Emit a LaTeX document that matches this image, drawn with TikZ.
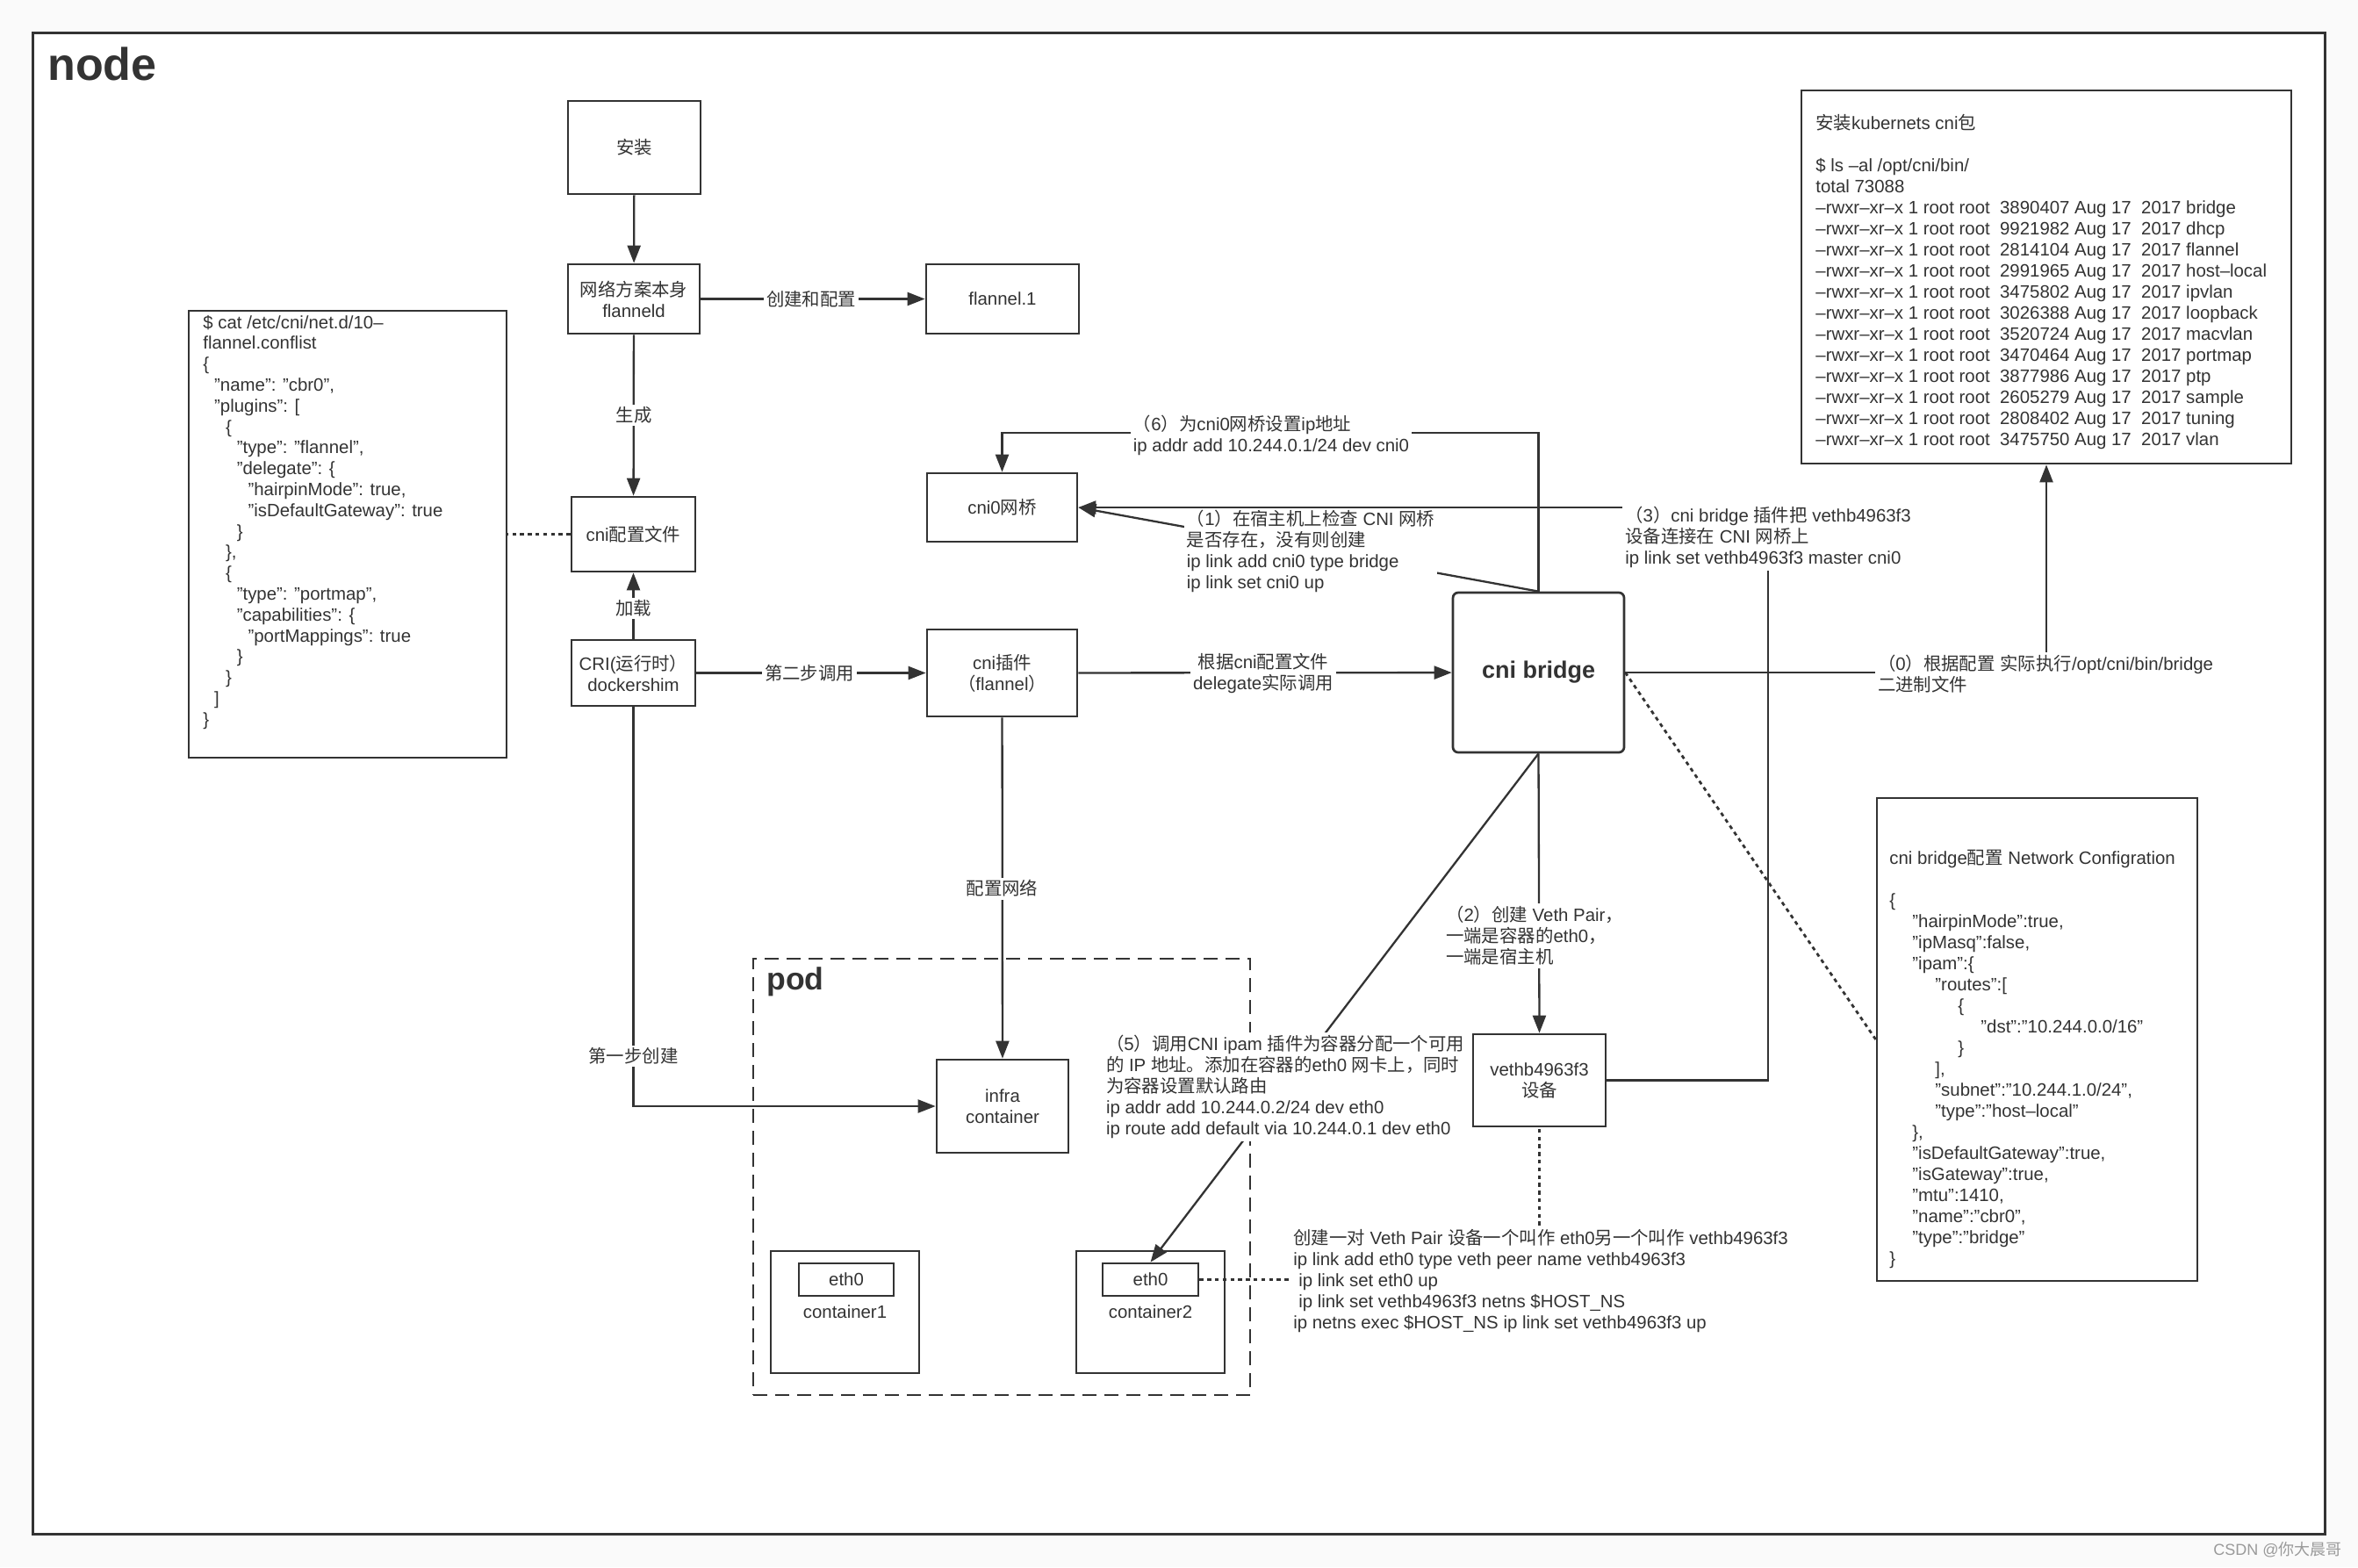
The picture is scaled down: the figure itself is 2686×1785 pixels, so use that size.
\documentclass[tikz,border=0pt]{standalone}
\usepackage{fontspec}
\setmainfont{Liberation Sans}
\newfontfamily\cjkfont{Noto Sans CJK SC}
\newfontfamily\latinfont{Liberation Sans}
\usetikzlibrary{arrows.meta}
\newcount\mycc
\mycc=0
\loop \XeTeXcharclass\mycc=0 \advance\mycc by 1 \ifnum\mycc<"3000 \repeat
\mycc="3000
\loop \XeTeXcharclass\mycc=1 \advance\mycc by 1 \ifnum\mycc<"3040 \repeat
\mycc="4E00
\loop \XeTeXcharclass\mycc=1 \advance\mycc by 1 \ifnum\mycc<"A000 \repeat
\mycc="FF00
\loop \XeTeXcharclass\mycc=1 \advance\mycc by 1 \ifnum\mycc<"FFF0 \repeat
\XeTeXinterchartoks 0 1 = {\cjkfont}
\XeTeXinterchartoks 4095 1 = {\cjkfont}
\XeTeXinterchartoks 1 0 = {\latinfont}
\XeTeXinterchartoks 1 4095 = {\latinfont}
\XeTeXinterchartokenstate=1
\definecolor{ink}{HTML}{333333}
\definecolor{pagebg}{HTML}{FAFAFA}
\definecolor{wm}{HTML}{9A9A9A}
\newcommand\dfont{\fontsize{10.2}{12}\selectfont}
\newcommand\lsrow[2]{–rwxr–xr–x 1 root root~~#1 Aug 17~~2017 #2}
\begin{document}
\begin{tikzpicture}[x=0.5pt, y=-0.5pt,
  every node/.style={text=ink, inner sep=0pt},
  box/.style={draw=ink, line width=1.35pt, font=\dfont, align=center},
  ln/.style={draw=ink, line width=1.15pt},
  arr/.style={ln, -{Triangle[length=10pt,width=7.5pt]}},
  dotln/.style={draw=ink, line width=1.4pt, dash pattern=on 2.2pt off 2.2pt},
  lbl/.style={fill=white, font=\dfont, align=left, inner sep=1.5pt},
  clbl/.style={fill=white, font=\dfont, align=center, inner sep=1.5pt},
  txt/.style={font=\dfont, align=left, anchor=north west}
]
\fill[pagebg] (0,0) rectangle (2686,1785);
\useasboundingbox (0,0) rectangle (2686,1785);
\draw[ink, line width=1.5pt, fill=white] (37.5,37.5) rectangle (2648.5,1747.5);

\node[anchor=base west, font=\fontsize{26}{30}\selectfont\bfseries] (title) at (54,91) {node};

% boxes
\node[box, minimum width=75.5pt, minimum height=53pt] (inst) at (722.5,168) {安装};
\node[box, minimum width=75pt, minimum height=39.5pt] (fl) at (722,340.5) {网络方案本身\\flanneld};
\node[box, minimum width=87pt, minimum height=39.5pt] (fl1) at (1142,340.5) {flannel.1};
\node[box, minimum width=70.5pt, minimum height=42.5pt] (cfg) at (721.5,608.5) {cni配置文件};
\node[box, minimum width=70.5pt, minimum height=37.5pt] (cri) at (721.5,766.5) {CRI(运行时）\\dockershim};
\node[box, minimum width=85.5pt, minimum height=49.5pt] (plug) at (1141.5,766.5) {cni插件\\（flannel）};
\node[box, minimum width=85.5pt, minimum height=39pt] (cni0) at (1141.5,578) {cni0网桥};
\node[box, rounded corners=3pt, minimum width=97.5pt, minimum height=91pt, font=\fontsize{13.5}{16}\selectfont\bfseries] (bridge) at (1752.5,766) {cni bridge};
\node[box, minimum width=75.5pt, minimum height=52.5pt] (veth) at (1753.5,1230.5) {vethb4963f3\\设备};

% pod
\node[draw=ink, line width=1.4pt, dash pattern=on 8pt off 4.5pt, minimum width=283pt, minimum height=248.5pt] (pod) at (1141,1340.5) {};
\node[anchor=base west, font=\fontsize{17.8}{20}\selectfont\bfseries] (podtitle) at (873,1127) {pod};
\node[box, minimum width=75pt, minimum height=53pt] (infra) at (1142,1260) {infra\\container};
\node[box, minimum width=84.5pt, minimum height=69.5pt] (cA) at (962.5,1494.5) {container1};
\node[box, minimum width=54pt, minimum height=18.5pt] (ethA) at (964,1457.5) {eth0};
\node[box, minimum width=84.5pt, minimum height=69.5pt] (cB) at (1310.5,1494.5) {container2};
\node[box, minimum width=54.5pt, minimum height=18.5pt] (ethB) at (1310.5,1457.5) {eth0};

% text boxes
\node[box, minimum width=181pt, minimum height=254.5pt] (jsonL) at (396,608.5) {};
\node[txt, font=\fontsize{10.2}{11.9}\selectfont] (jsonLtxt) at (231,357) {\strut\$ cat /etc/cni/net.d/10–\\
flannel.conflist\\
\{\\
\hspace*{6.4pt}"name": "cbr0",\\
\hspace*{6.4pt}"plugins": [\\
\hspace*{12.8pt}\{\\
\hspace*{19.2pt}"type": "flannel",\\
\hspace*{19.2pt}"delegate": \{\\
\hspace*{25.6pt}"hairpinMode": true,\\
\hspace*{25.6pt}"isDefaultGateway": true\\
\hspace*{19.2pt}\}\\
\hspace*{12.8pt}\},\\
\hspace*{12.8pt}\{\\
\hspace*{19.2pt}"type": "portmap",\\
\hspace*{19.2pt}"capabilities": \{\\
\hspace*{25.6pt}"portMappings": true\\
\hspace*{19.2pt}\}\\
\hspace*{12.8pt}\}\\
\hspace*{6.4pt}]\\
\}};

\node[box, minimum width=279pt, minimum height=212.5pt] (lsbox) at (2331,315.5) {};
\node[txt] (lstxt) at (2068,130) {\strut 安装kubernets cni包\\[12pt]
\$ ls –al /opt/cni/bin/\\
total 73088\\
\lsrow{3890407}{bridge}\\
\lsrow{9921982}{dhcp}\\
\lsrow{2814104}{flannel}\\
\lsrow{2991965}{host–local}\\
\lsrow{3475802}{ipvlan}\\
\lsrow{3026388}{loopback}\\
\lsrow{3520724}{macvlan}\\
\lsrow{3470464}{portmap}\\
\lsrow{3877986}{ptp}\\
\lsrow{2605279}{sample}\\
\lsrow{2808402}{tuning}\\
\lsrow{3475750}{vlan}};

\node[box, minimum width=182.5pt, minimum height=275pt] (confbox) at (2320.5,1184) {};
\node[txt] (conftxt) at (2152,967) {\strut cni bridge配置 Network Configration\\[12pt]
\{\\
\hspace*{13pt}"hairpinMode":true,\\
\hspace*{13pt}"ipMasq":false,\\
\hspace*{13pt}"ipam":\{\\
\hspace*{26pt}"routes":[\\
\hspace*{39pt}\{\\
\hspace*{52pt}"dst":"10.244.0.0/16"\\
\hspace*{39pt}\}\\
\hspace*{26pt}],\\
\hspace*{26pt}"subnet":"10.244.1.0/24",\\
\hspace*{26pt}"type":"host–local"\\
\hspace*{13pt}\},\\
\hspace*{13pt}"isDefaultGateway":true,\\
\hspace*{13pt}"isGateway":true,\\
\hspace*{13pt}"mtu":1410,\\
\hspace*{13pt}"name":"cbr0",\\
\hspace*{13pt}"type":"bridge"\\
\}};

% connectors (left column)
\draw[arr] (inst) -- (fl);
\draw[arr] (fl) -- (fl1);
\node[clbl] (lcreate) at (924,341) {创建和配置};
\draw[arr] (fl) -- (cfg);
\node[clbl] (lgen) at (722,473) {生成};
\draw[arr] (cri) -- (cfg);
\node[clbl] (lload) at (721.5,693) {加载};
\draw[dotln] (cfg.west) -- (cfg.west -| jsonL.east);
\draw[arr] (cri) -- (plug);
\node[clbl] (lstep2) at (922,767) {第二步调用};
\draw[arr] (plug) -- (bridge);
\node[clbl] (ldel) at (1439,767) {根据cni配置文件\\delegate实际调用};
\draw[arr] (plug) -- (infra);
\node[clbl] (lnet) at (1141.5,1012) {配置网络};
\draw[arr] (cri) |- (infra);
\node[clbl] (lstep1) at (721.5,1203) {第一步创建};

% bridge connectors
\coordinate (c6) at (1448,493);
\draw[arr] (bridge.north) |- (c6) -| (cni0.north);
\node[lbl] (l6) at (1448,496) {（6）为cni0网桥设置ip地址\\ip addr add 10.244.0.1/24 dev cni0};

\draw[arr] (bridge.north) -- (cni0.east);
\node[lbl] (l1) at (1493,628) {（1）在宿主机上检查 CNI 网桥\\是否存在，没有则创建\\ip link add cni0 type bridge\\ip link set cni0 up};

\coordinate (c3) at (2014,578);
\draw[arr] (veth.east) -| (c3) -- (cni0.east);
\node[lbl] (l3) at (2014,612) {（3）cni bridge 插件把 vethb4963f3\\设备连接在 CNI 网桥上\\ip link set vethb4963f3 master cni0};

\draw[arr] (bridge.east) -| (lsbox.south);
\node[lbl] (l0) at (2330,768) {（0）根据配置 实际执行/opt/cni/bin/bridge\\二进制文件};

\draw[dotln] (bridge.east) -- (confbox.west);

\draw[arr] (bridge.south) -- (veth.north);
\node[lbl] (l2) at (1748,1066) {（2）创建 Veth Pair，\\一端是容器的eth0，\\一端是宿主机};

\draw[arr] (bridge.south) -- (ethB.north);
\node[lbl] (l5) at (1464,1238) {（5）调用CNI ipam 插件为容器分配一个可用\\的 IP 地址。添加在容器的eth0 网卡上，同时\\为容器设置默认路由\\ip addr add 10.244.0.2/24 dev eth0\\ip route add default via 10.244.0.1 dev eth0};

\draw[dotln] (ethB.east) -| (veth.south);
\node[lbl] (lveth) at (1755,1459) {创建一对 Veth Pair 设备一个叫作 eth0另一个叫作 vethb4963f3\\ip link add eth0 type veth peer name vethb4963f3\\\hspace*{3pt}ip link set eth0 up\\\hspace*{3pt}ip link set vethb4963f3 netns \$HOST\_NS\\ip netns exec \$HOST\_NS ip link set vethb4963f3 up};

\node[anchor=east, text=wm, font=\fontsize{9}{10}\selectfont] (wmark) at (2668,1765) {CSDN @你大晨哥};
\end{tikzpicture}
\end{document}
